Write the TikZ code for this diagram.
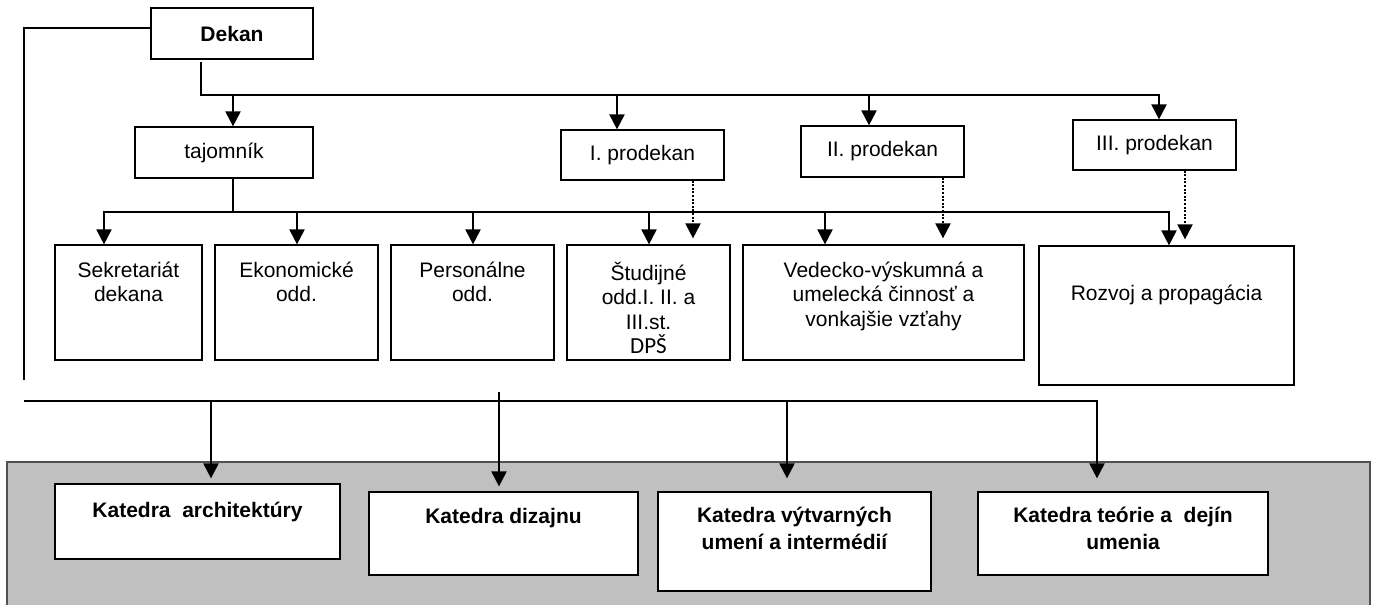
\documentclass[tikz,border=0pt]{standalone}
\usepackage{fontspec}
\setmainfont{Liberation Sans}
\newfontfamily\dpsfont{Carlito}
\usetikzlibrary{arrows.meta,fit}
\definecolor{panelgray}{RGB}{192,192,192}
\definecolor{panelborder}{RGB}{80,80,80}
\begin{document}
\begin{tikzpicture}[x=0.5pt,y=-0.5pt,
  box/.style={draw=black,line width=0.6pt,fill=white,inner sep=0pt},
  txt/.style={font=\fontsize{10.5pt}{12.25pt}\selectfont,align=center,inner sep=0pt},
  btxt/.style={font=\fontsize{10.5pt}{13.5pt}\selectfont\bfseries,align=center,inner sep=0pt},
  conn/.style={line width=1pt},
  arr/.style={line width=1pt,-{Triangle[width=7.5pt,length=7.5pt]}},
  dotarr/.style={line width=1pt,dash pattern=on 1pt off 0.8pt,-{Triangle[width=7.5pt,length=7.5pt]}}]
\useasboundingbox (0,0) rectangle (1376,605);
% grey panel
\node[fit={(7,462) (1370,612)}, inner sep=0pt, fill=panelgray, draw=panelborder, line width=0.6pt] (panel) {};
% top level
\node[box, btxt, minimum width=81pt, minimum height=25.5pt] (dekan) at (232,33.5) {Dekan};
\node[box, txt, minimum width=89pt, minimum height=25.5pt] (taj) at (224,152.5) {tajomník};
\node[box, txt, minimum width=81.5pt, minimum height=25pt] (p1) at (642.5,155) {I. prodekan};
\node[box, txt, minimum width=81.5pt, minimum height=25.5pt] (p2) at (882.5,151.5) {II. prodekan};
\node[box, txt, minimum width=81.5pt, minimum height=25pt] (p3) at (1154.5,145) {III. prodekan};
% second row
\node[box, fit={(55,245) (202,360)}] (sek) {};
\node[box, fit={(215,245) (378,360)}] (eko) {};
\node[box, fit={(391,245) (554,360)}] (per) {};
\node[box, fit={(567,245) (730,360)}] (stu) {};
\node[box, fit={(743,245) (1024,360)}] (ved) {};
\node[box, fit={(1039,246) (1294,385)}] (roz) {};
\node[txt, anchor=north] (sekt) at ([yshift=-8.5pt]sek.north) {Sekretariát\\dekana};
\node[txt, anchor=north] (ekot) at ([yshift=-8.5pt]eko.north) {Ekonomické\\odd.};
\node[txt, anchor=north] (pert) at ([yshift=-8.5pt]per.north) {Personálne\\odd.};
\node[txt, anchor=north] (stut) at ([yshift=-8.5pt]stu.north) {Študijné\\odd.I. II. a\\III.st.\\{\dpsfont\fontsize{11.5pt}{12.25pt}\selectfont DPŠ}};
\node[txt, anchor=north] (vedt) at ([yshift=-8.5pt]ved.north) {Vedecko-výskumná a\\umelecká činnosť a\\vonkajšie vzťahy};
\node[txt, anchor=base] (rozt) at (1166.5,300.5) {Rozvoj a propagácia};
% departments
\node[box, fit={(55,484) (340,559)}] (ka) {};
\node[box, fit={(369,492) (638,575)}] (kd) {};
\node[box, fit={(658,492) (931,591)}] (kv) {};
\node[box, fit={(978,492) (1268,575)}] (kt) {};
\node[btxt, anchor=base] (kat) at (197.5,517) {Katedra\ \ architektúry};
\node[btxt, anchor=base] (kdt) at (503.5,523) {Katedra dizajnu};
\node[btxt, anchor=north] (kvt) at (794.5,507) {Katedra výtvarných\\umení a intermédií};
\node[btxt, anchor=north] (ktt) at (1123,507) {Katedra teórie a\ \ dejín\\umenia};
% coordinates
\coordinate (lA) at (24,28);
\coordinate (lB) at (24,380);
\coordinate (bA) at (201,95);
\coordinate (bB) at (1159,95);
\coordinate (tA) at (233,95);
\coordinate (tB) at (617,95);
\coordinate (tC) at (869,95);
\coordinate (bC) at (233,212);
\coordinate (bD) at (104,212);
\coordinate (bE) at (1169,212);
\coordinate (sE) at (297,212);
\coordinate (sP) at (473,212);
\coordinate (sS) at (649,212);
\coordinate (sV) at (825,212);
\coordinate (x1) at (693,0);
\coordinate (x2) at (943,0);
\coordinate (x3) at (1185,0);
\coordinate (bF) at (24,401);
\coordinate (bG) at (1097,401);
\coordinate (c1) at (211,401);
\coordinate (c2) at (499,392);
\coordinate (c3) at (787,401);
% connectors
\draw[conn] (dekan.west |- lA) -- (lA) -- (lB);
\draw[arr] ([yshift=-1pt]dekan.south -| bA) -- (bA) -- (bB) -- (p3.north -| bB);
\draw[arr] (tA) -- (taj.north -| tA);
\draw[arr] (tB) -- (p1.north -| tB);
\draw[arr] (tC) -- (p2.north -| tC);
\draw[conn] (taj.south -| bC) -- (bC);
\draw[arr] (bC) -- (bD) -- (sek.north -| bD);
\draw[arr] (bC) -- (bE) -- (roz.north -| bE);
\draw[arr] (sE) -- (eko.north -| sE);
\draw[arr] (sP) -- (per.north -| sP);
\draw[arr] (sS) -- (stu.north -| sS);
\draw[arr] (sV) -- (ved.north -| sV);
\draw[dotarr, shorten >=3pt] (p1.south -| x1) -- (stu.north -| x1);
\draw[dotarr, shorten >=3pt] (p2.south -| x2) -- (ved.north -| x2);
\draw[dotarr, shorten >=3pt] (p3.south -| x3) -- (roz.north -| x3);
\draw[arr, shorten >=6.5pt] (bF) -- (bG) -- (kt.north -| bG);
\draw[arr, shorten >=2.5pt] (c1) -- (ka.north -| c1);
\draw[arr, shorten >=2.5pt] (c2) -- (kd.north -| c2);
\draw[arr, shorten >=6.5pt] (c3) -- (kv.north -| c3);
\end{tikzpicture}
\end{document}
